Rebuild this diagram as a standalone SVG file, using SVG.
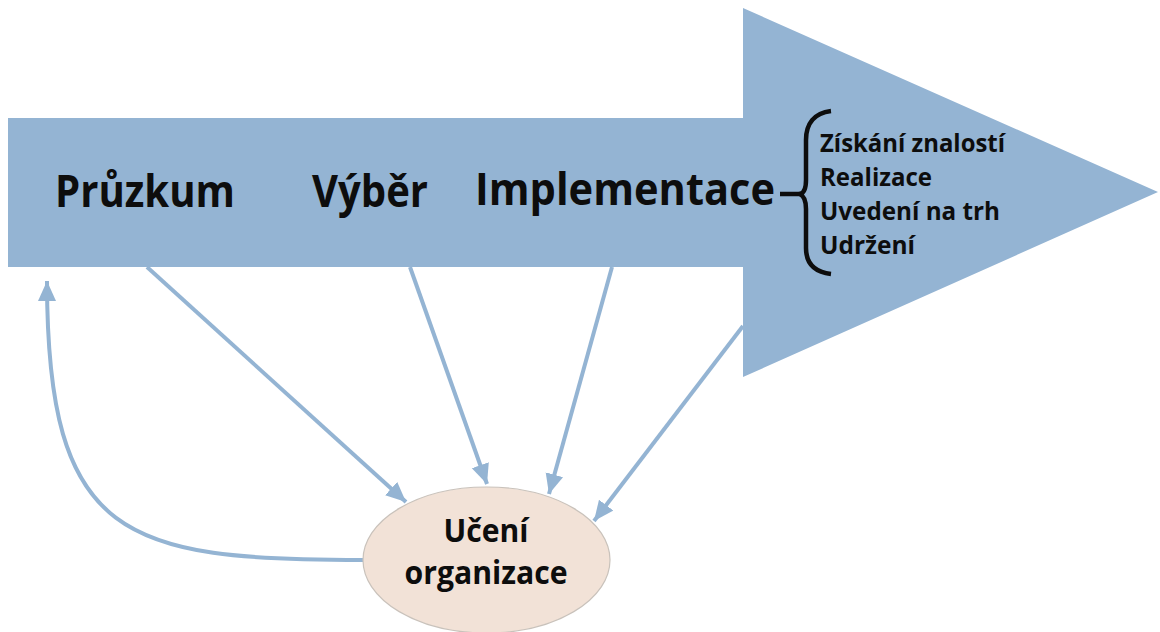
<svg xmlns="http://www.w3.org/2000/svg" width="1160" height="632" viewBox="0 0 1160 632">
  <defs>
    <marker id="arrow" markerUnits="userSpaceOnUse" markerWidth="22" markerHeight="20" refX="20" refY="9" orient="auto">
      <path d="M0,0 L20,9 L0,18 Z" fill="#94b4d3"/>
    </marker>
    <style>
      .stage { font-family: "Open Sans", "Liberation Sans", sans-serif; font-weight: 700; font-size: 45px; fill: #0d0d0d; }
      .sub { font-family: "Open Sans", "Liberation Sans", sans-serif; font-weight: 700; font-size: 25px; fill: #0d0d0d; }
      .node-text { font-family: "Open Sans", "Liberation Sans", sans-serif; font-weight: 700; font-size: 32px; fill: #0d0d0d; text-anchor: middle; }
      .link { fill: none; stroke: #94b4d3; stroke-width: 4; marker-end: url(#arrow); }
    </style>
  </defs>

  <rect width="1160" height="632" fill="#ffffff"/>

  <!-- main process arrow -->
  <g id="process">
    <polygon points="8,118 743,118 743,8 1158,192 743,377 743,267 8,267" fill="#94b4d3"/>
    <text class="stage" x="55" y="207" textLength="180" lengthAdjust="spacingAndGlyphs">Průzkum</text>
    <text class="stage" x="312" y="207" textLength="116" lengthAdjust="spacingAndGlyphs">Výběr</text>
    <text class="stage" x="475" y="205" textLength="300" lengthAdjust="spacingAndGlyphs">Implementace</text>
  </g>

  <!-- implementation sub-steps -->
  <g id="implementation-steps">
    <line x1="780" y1="194" x2="801" y2="194" stroke="#0d0d0d" stroke-width="4.5"/>
    <path d="M831,111 C814,113 806,124 806,140 L806,180 C806,188 804,193 800,194 C804,196 806,201 806,209 L806,248 C806,263 814,272 831,274" fill="none" stroke="#0d0d0d" stroke-width="4.5"/>
    <text class="sub" x="820" y="152" textLength="185" lengthAdjust="spacingAndGlyphs">Získání znalostí</text>
    <text class="sub" x="820" y="186" textLength="112" lengthAdjust="spacingAndGlyphs">Realizace</text>
    <text class="sub" x="820" y="220" textLength="180" lengthAdjust="spacingAndGlyphs">Uvedení na trh</text>
    <text class="sub" x="820" y="254" textLength="95" lengthAdjust="spacingAndGlyphs">Udržení</text>
  </g>

  <!-- connectors -->
  <g id="connectors">
    <line class="link" x1="147" y1="267" x2="406" y2="502"/>
    <line class="link" x1="410" y1="267" x2="487" y2="484"/>
    <line class="link" x1="612" y1="267" x2="549" y2="494"/>
    <line class="link" x1="743" y1="326" x2="594" y2="521"/>
    <path class="link" d="M363,560 C125,560 47,540 47,281"/>
  </g>

  <!-- organisational learning -->
  <g id="learning">
    <ellipse cx="486.5" cy="560" rx="123.5" ry="73" fill="#f2e2d7" stroke="#c9c2bb" stroke-width="1.2"/>
    <text class="node-text" x="486" y="542" textLength="85" lengthAdjust="spacingAndGlyphs">Učení</text>
    <text class="node-text" x="486" y="584" textLength="163" lengthAdjust="spacingAndGlyphs">organizace</text>
  </g>
</svg>
